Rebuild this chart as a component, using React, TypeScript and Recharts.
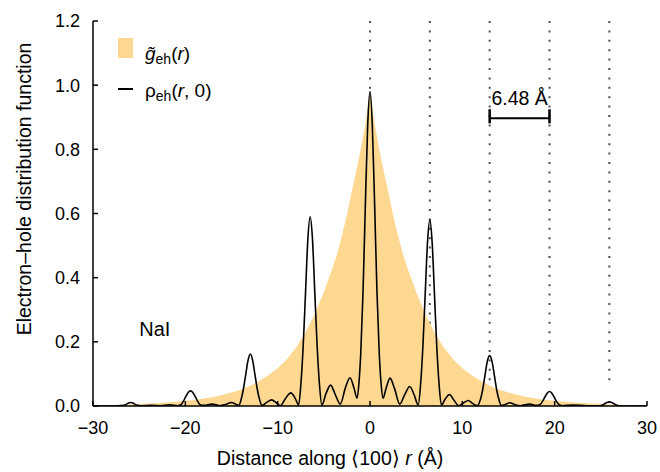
import React from 'react';
import {
  ComposedChart,
  Area,
  Line,
  XAxis,
  YAxis,
  ReferenceLine,
  ReferenceDot,
  Legend,
  Label,
} from 'recharts';

const FONT = '"Liberation Sans", Arial, Helvetica, sans-serif';
const ORANGE = '#FED791';

// envelope g~eh(r)
const gR = [
  -30, -28, -26, -24, -22, -20, -19, -18, -17, -16, -15, -14, -13, -12, -11, -10, -9, -8, -7, -6,
  -5, -4.5, -4, -3.5, -3, -2.5, -2, -1.5, -1, -0.5, -0.25, 0, 0.25, 0.5, 1, 1.5, 2, 2.5, 3, 3.5,
  4, 4.5, 5, 6, 7, 8, 9, 10, 11, 12, 13, 14, 15, 16, 17, 18, 19, 20, 22, 24, 26, 28, 30,
];
const gValues = [
  0.002, 0.003, 0.005, 0.008, 0.011, 0.016, 0.019, 0.023, 0.028, 0.034, 0.042, 0.051, 0.063, 0.078, 0.096, 0.118, 0.146, 0.182, 0.228, 0.285,
  0.355, 0.395, 0.435, 0.48, 0.535, 0.595, 0.665, 0.73, 0.8, 0.88, 0.93, 0.98, 0.93, 0.88, 0.8, 0.73, 0.665, 0.595, 0.535, 0.48,
  0.435, 0.395, 0.355, 0.285, 0.228, 0.182, 0.146, 0.118, 0.096, 0.078, 0.063, 0.051, 0.042, 0.034, 0.028, 0.023, 0.019, 0.016, 0.011, 0.008, 0.005, 0.003, 0.002,
];

// rho_eh(r, 0)
const rhoR = [
  -30, -28.5, -27.2, -26.67, -26.42, -26.17, -25.92, -25.67, -25.42, -25.17, -24.8, -23.7, -22.7, -21.7, -20.8,
  -20.44, -20.19, -19.94, -19.69, -19.44, -19.19, -18.94, -18.69, -18.44, -18.0, -17.1, -16.3, -15.6, -15.0, -14.5,
  -14.2, -13.96, -13.71, -13.46, -13.21, -12.96, -12.71, -12.46, -12.21, -11.96, -11.7, -11.15, -10.65, -10.15, -9.7,
  -9.1, -8.58, -8.1, -7.73, -7.48, -7.23, -6.98, -6.73, -6.48, -6.23, -5.98, -5.73, -5.48, -5.22, -4.75,
  -4.27, -3.75, -3.22, -2.65, -2.17, -1.75, -1.4, -1.2, -1.0, -0.75, -0.5, -0.25, 0,
  0.25, 0.5, 0.75, 1.0, 1.2, 1.4, 1.75, 2.17, 2.65, 3.22, 3.75, 4.3, 4.78, 5.22,
  5.48, 5.73, 5.98, 6.23, 6.48, 6.73, 6.98, 7.23, 7.48, 7.73, 8.15, 8.6, 9.1, 9.6, 10.15,
  10.65, 11.1, 11.6, 11.96, 12.21, 12.46, 12.71, 12.96, 13.21, 13.46, 13.71, 13.96, 14.2, 14.6, 15.15,
  15.7, 16.3, 17.3, 18.0, 18.44, 18.69, 18.94, 19.19, 19.44, 19.69, 19.94, 20.19, 20.44, 20.8, 22,
  23.5, 24.92, 25.17, 25.42, 25.67, 25.92, 26.17, 26.42, 26.67, 26.92, 28, 30,
];
const rhoValues = [
  0, 0, 0.001, 0.002, 0.005, 0.009, 0.011, 0.009, 0.005, 0.002, 0.001, 0.002, 0.001, 0.004, 0.001,
  0.005, 0.016, 0.03, 0.042, 0.047, 0.042, 0.03, 0.016, 0.005, 0.002, 0.006, 0.001, 0.005, 0.011, 0.005,
  0.002, 0.02, 0.053, 0.098, 0.142, 0.162, 0.142, 0.098, 0.053, 0.02, 0.002, 0.012, 0.019, 0.01, 0.001,
  0.026, 0.041, 0.024, 0.003, 0.07, 0.19, 0.355, 0.52, 0.59, 0.52, 0.355, 0.19, 0.07, 0.003, 0.04,
  0.065, 0.035, 0.006, 0.058, 0.088, 0.058, 0.024, 0.07, 0.165, 0.36, 0.63, 0.875, 0.98,
  0.875, 0.63, 0.36, 0.165, 0.07, 0.024, 0.056, 0.087, 0.055, 0.006, 0.035, 0.061, 0.035, 0.003,
  0.068, 0.186, 0.35, 0.51, 0.58, 0.51, 0.35, 0.186, 0.068, 0.003, 0.022, 0.036, 0.018, 0.001, 0.01,
  0.017, 0.008, 0.001, 0.02, 0.052, 0.097, 0.14, 0.157, 0.14, 0.097, 0.052, 0.02, 0.002, 0.004, 0.01,
  0.004, 0.001, 0.006, 0.002, 0.005, 0.015, 0.028, 0.04, 0.045, 0.04, 0.028, 0.015, 0.005, 0.001, 0.003,
  0.001, 0.001, 0.003, 0.007, 0.011, 0.013, 0.011, 0.007, 0.003, 0.001, 0, 0,
];

const xTicks = [-30, -20, -10, 0, 10, 20, 30];
const yTicks = [0, 0.2, 0.4, 0.6, 0.8, 1.0, 1.2];
const latticeSites = [0, 6.48, 12.96, 19.44, 25.92];
const scaleBar = { from: 12.96, to: 19.44, y: 0.897, capLow: 0.881, capHigh: 0.925, text: '6.48 Å' };

const gData = gR.map((r, i) => ({ r, g: gValues[i] }));
const rhoData = rhoR.map((r, i) => ({ r, rho: rhoValues[i] }));

const fmtX = (v: number) => (v < 0 ? `\u2212${-v}` : `${v}`);
const fmtY = (v: number) => v.toFixed(1);

const tickStyle = { fontSize: 18, fill: '#000', fontFamily: FONT };
const frame = { stroke: '#000', strokeWidth: 1.5 };

const XTitle = ({ viewBox }: any) => (
  <text
    x={viewBox.x + viewBox.width / 2 - 40}
    y={viewBox.y + 59}
    textAnchor="middle"
    fontSize={19.5}
    fontFamily={FONT}
    fill="#000"
  >
    Distance along {'\u27E8'}100{'\u27E9'} <tspan fontStyle="italic">r</tspan> (Å)
  </text>
);

const YTitle = ({ viewBox }: any) => {
  const cx = 31;
  const cy = viewBox.y + viewBox.height / 2 - 24.5;
  return (
    <text
      x={cx}
      y={cy}
      transform={`rotate(-90, ${cx}, ${cy})`}
      textAnchor="middle"
      fontSize={19.5}
      fontFamily={FONT}
      fill="#000"
    >
      Electron–hole distribution function
    </text>
  );
};

const sub = { fontSize: 14, position: 'relative' as const, top: 4 };

const LegendBox = () => (
  <div style={{ position: 'relative', width: 160, height: 70, fontFamily: FONT, fontSize: 19, color: '#000', lineHeight: 1 }}>
    <div style={{ position: 'absolute', left: 0, top: 2, width: 15, height: 20, background: ORANGE }} />
    <div style={{ position: 'absolute', left: 27, top: 8, whiteSpace: 'nowrap' }}>
      <i>g{'\u0303'}</i>
      <span style={sub}>eh</span>(<i>r</i>)
    </div>
    <div style={{ position: 'absolute', left: 0, top: 52, width: 15, height: 1.5, background: '#000' }} />
    <div style={{ position: 'absolute', left: 27, top: 45, whiteSpace: 'nowrap' }}>
      ρ<span style={sub}>eh</span>(<i>r</i>, 0)
    </div>
  </div>
);

export default function App() {
  return (
    <div style={{ position: 'absolute', left: 0, top: 0, background: '#fff' }}>
      <ComposedChart
        width={660}
        height={472}
        margin={{ top: 21, right: 13, bottom: 0, left: 0 }}
        style={{ fontFamily: FONT }}
      >
        <XAxis
          type="number"
          dataKey="r"
          domain={[-30, 30]}
          ticks={xTicks}
          allowDataOverflow
          height={66}
          tickSize={-5}
          tickMargin={20}
          axisLine={frame}
          tickLine={frame}
          tick={tickStyle}
          tickFormatter={fmtX}
          label={<Label content={XTitle} />}
        />
        <XAxis
          xAxisId="top"
          orientation="top"
          type="number"
          dataKey="r"
          domain={[-30, 30]}
          ticks={xTicks}
          allowDataOverflow
          height={0}
          tickSize={-5}
          axisLine={frame}
          tickLine={frame}
          tick={false}
        />
        <YAxis
          type="number"
          domain={[0, 1.2]}
          ticks={yTicks}
          allowDataOverflow
          width={93}
          tickSize={-5}
          tickMargin={18}
          axisLine={frame}
          tickLine={frame}
          tick={tickStyle}
          tickFormatter={fmtY}
          label={<Label content={YTitle} />}
        />
        <YAxis
          yAxisId="right"
          orientation="right"
          type="number"
          domain={[0, 1.2]}
          ticks={yTicks}
          allowDataOverflow
          width={0}
          tickSize={-5}
          axisLine={frame}
          tickLine={frame}
          tick={false}
        />
        <Legend
          layout="vertical"
          align="center"
          verticalAlign="middle"
          wrapperStyle={{ left: 118, top: 36, width: 160, height: 70 }}
          content={LegendBox}
        />

        {latticeSites.map((x) => (
          <ReferenceLine
            key={x}
            segment={[{ x, y: 1.2 }, { x, y: 0.06 }]}
            stroke="#4d4d4d"
            strokeWidth={2}
            strokeDasharray="2 7.4"
            zIndex={50}
          />
        ))}

        <Area
          data={gData}
          dataKey="g"
          type="linear"
          stroke="none"
          fill={ORANGE}
          fillOpacity={1}
          isAnimationActive={false}
          legendType="none"
        />
        <Line
          data={rhoData}
          dataKey="rho"
          type="monotone"
          stroke="#000"
          strokeWidth={1.6}
          dot={false}
          activeDot={false}
          isAnimationActive={false}
          legendType="none"
        />

        <ReferenceLine
          segment={[{ x: scaleBar.from, y: scaleBar.y }, { x: scaleBar.to, y: scaleBar.y }]}
          stroke="#000"
          strokeWidth={2}
          zIndex={450}
          label={{ value: scaleBar.text, position: 'top', offset: 13, fontSize: 19.5, fill: '#000', fontFamily: FONT }}
        />
        <ReferenceLine
          segment={[{ x: scaleBar.from, y: scaleBar.capLow }, { x: scaleBar.from, y: scaleBar.capHigh }]}
          stroke="#000"
          strokeWidth={2.5}
          zIndex={450}
        />
        <ReferenceLine
          segment={[{ x: scaleBar.to, y: scaleBar.capLow }, { x: scaleBar.to, y: scaleBar.capHigh }]}
          stroke="#000"
          strokeWidth={2.5}
          zIndex={450}
        />
        <ReferenceDot
          x={-23.3}
          y={0.24}
          r={0}
          fill="none"
          stroke="none"
          label={{ value: 'NaI', position: 'center', fontSize: 20, fill: '#000', fontFamily: FONT }}
        />
      </ComposedChart>
    </div>
  );
}
